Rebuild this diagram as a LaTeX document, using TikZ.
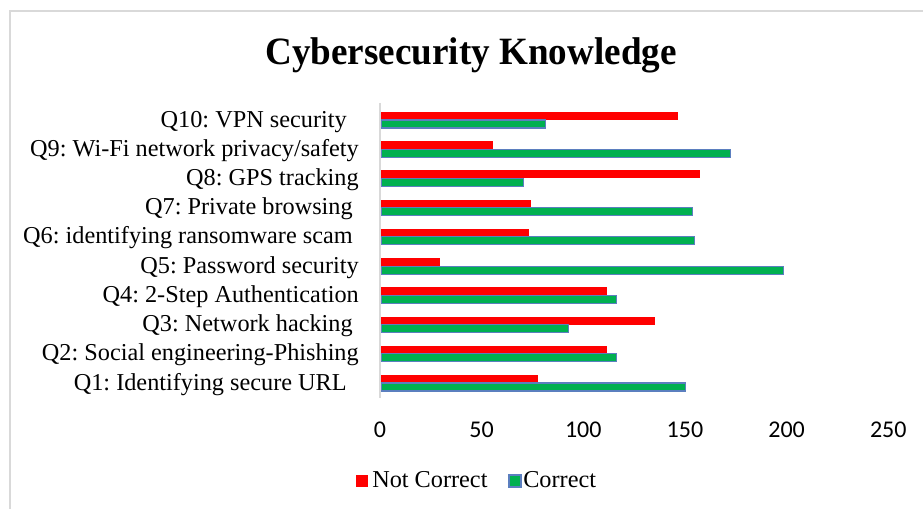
\documentclass[tikz,border=0pt]{standalone}
\usepackage{fontspec}
\usepackage{graphicx}
\setmainfont{Liberation Serif}
\newfontfamily\tickfont{Carlito}
\usetikzlibrary{positioning}
\frenchspacing

\definecolor{barred}{RGB}{255,0,0}
\definecolor{bargreen}{RGB}{0,176,80}
\definecolor{barblue}{RGB}{91,127,191}
\definecolor{framegray}{RGB}{217,217,217}

\tikzset{
  lbl/.style={font=\fontsize{18.2}{21.8}\selectfont, anchor=base east, inner sep=0pt},
  ticklbl/.style={font=\tickfont\fontsize{18}{21.6}\selectfont, anchor=base, inner sep=0pt},
  ncbar/.style={fill=barred},
  cbar/.style={fill=bargreen, draw=barblue, line width=0.8pt},
  keybox/.style={minimum size=9pt, inner sep=0pt}
}

\begin{document}
\begin{tikzpicture}[x=0.75pt, y=-0.75pt]
    \useasboundingbox (0,0) rectangle (923,509);
    % chart frame (open to the right and bottom)
    \draw[framegray, line width=1.2pt] (923,11) -- (10,11) -- (10,509);

    % title
    \node[font=\bfseries\fontsize{29}{34}\selectfont, anchor=base, inner sep=0pt] (title) at (471,64.5) {\scalebox{0.96}[1]{Cybersecurity Knowledge}};

    % bars: question / not correct / correct / label gap
    \foreach \i/\txt/\nc/\co/\gap in {
        1/{Q1: Identifying secure URL}/77/150/12,
        2/{Q2: Social engineering-Phishing}/111/116/0,
        3/{Q3: Network hacking}/135/92/6,
        4/{Q4: 2-Step Authentication}/111/116/0,
        5/{Q5: Password security}/29/198/0,
        6/{Q6: identifying ransomware scam}/73/154/6,
        7/{Q7: Private browsing}/74/153/6,
        8/{Q8: GPS tracking}/157/70/0,
        9/{Q9: Wi-Fi network privacy/safety}/55/172/0,
        10/{Q10: VPN security}/146/81/12} {
      \pgfmathsetmacro\yc{383-(\i-1)*29.22}
      \fill[ncbar] (381,\yc-8) rectangle (381+\nc*2.033,\yc);
      \draw[cbar] (381,\yc) rectangle (381+\co*2.033,\yc+8);
      \node[lbl] (q\i) at (359-\gap,\yc+7) {\txt};
    }

    % value axis
    \draw[framegray, line width=1.5pt] (380,103) -- (380,398);
    \foreach \v in {0,50,...,250}
      \node[ticklbl] (t\v) at (380+\v*2.033,437) {\v};

    % legend
    \node[keybox, fill=barred] (keync) at (362,481) {};
    \node[anchor=base west, inner sep=0pt, font=\fontsize{18.2}{21.8}\selectfont] (txtnc) at (372,487) {Not Correct};
    \node[keybox, fill=bargreen, draw=barblue, line width=0.8pt] (keyc) at (515,481) {};
    \node[anchor=base west, inner sep=0pt, font=\fontsize{18.2}{21.8}\selectfont] (txtc) at (523,487) {Correct};
\end{tikzpicture}
\end{document}
